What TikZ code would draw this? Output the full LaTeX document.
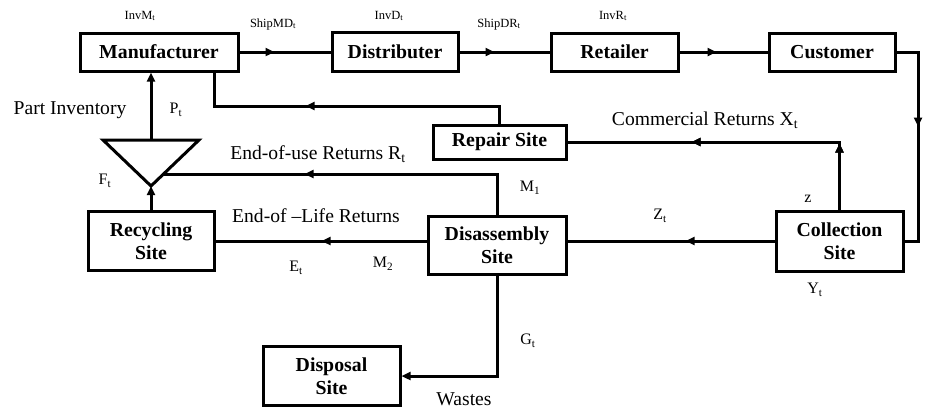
\documentclass[tikz,border=0pt]{standalone}
\usepackage{fontspec}
\setmainfont{Liberation Serif}
\usetikzlibrary{arrows.meta,decorations.markings}
\tikzset{
  box/.style={draw, line width=3pt, align=center, inner sep=0pt,
    font=\fontsize{19.8}{23}\selectfont\bfseries},
  conn/.style={line width=3pt},
  midarr/.style={decoration={markings,
     mark=at position #1 with {\arrow{Triangle[length=9pt,width=8pt]}}},
     postaction={decorate}},
  endarr/.style={-{Triangle[length=9pt,width=8pt]}},
  lab/.style={inner sep=0pt, font=\fontsize{19.6}{22}\selectfont},
  mlab/.style={inner sep=0pt, font=\fontsize{16}{18}\selectfont},
  slab/.style={inner sep=0pt, font=\fontsize{12.5}{14}\selectfont},
}
\begin{document}
\begin{tikzpicture}[x=1pt,y=-1pt]
\useasboundingbox (0,0) rectangle (943,408);
% boxes
\node[box, minimum width=158pt, minimum height=38pt] (man) at (159,52) {Manufacturer};
\node[box, minimum width=126pt, minimum height=39pt] (dist) at (395,52) {Distributer};
\node[box, minimum width=127pt, minimum height=38pt] (ret) at (614.5,52) {Retailer};
\node[box, minimum width=126pt, minimum height=38pt] (cust) at (832,52) {Customer};
\node[box, minimum width=133pt, minimum height=34pt] (rep) at (499.5,142) {Repair Site};
\node[box, minimum width=126pt, minimum height=59pt] (recy) at (151,241) {Recycling\\Site};
\node[box, minimum width=138pt, minimum height=58pt] (dis) at (497,245) {Disassembly\\Site};
\node[box, minimum width=127pt, minimum height=60pt] (col) at (839.5,241) {Collection\\Site};
\node[box, minimum width=137pt, minimum height=59pt] (disp) at (331.5,376) {Disposal\\Site};
% triangle
\coordinate (tl) at (103,140);
\coordinate (tr) at (199,140);
\coordinate (tb) at (151,186);
\coordinate (tt) at (151,140);
\coordinate (te) at (163.5,174);
\draw[conn, line join=miter] (tl) -- (tr) -- (tb) -- cycle;
% corner coordinates
\coordinate (c1) at (918,241);
\coordinate (c3) at (214,106);
% connectors
\draw[conn, midarr=35pt] (man.east) -- (dist.west);
\draw[conn, midarr=35pt] (dist.east) -- (ret.west);
\draw[conn, midarr=37pt] (ret.east) -- (cust.west);
\draw[conn, midarr=96pt] (cust.east) -| (c1) -- (col.east);
\draw[conn, midarr=66pt, midarr=215.5pt] (col.north) |- (rep.east);
\draw[conn, midarr=211.5pt] (rep.north) |- (c3) -- (c3 |- man.south);
\draw[conn, midarr=233pt] (dis.north) |- (te);
\draw[conn, midarr=89pt] (col.west) -- (col.west -| dis.east);
\draw[conn, midarr=105pt] (dis.west |- col.west) -- (col.west -| recy.east);
\draw[conn, endarr] (recy.north) -- (tb);
\draw[conn, endarr] (tt) -- (tt |- man.south);
\draw[conn, endarr] (dis.south) |- (disp.east);
% labels
\node[slab] (l1) at (140,16) {InvM\textsubscript{t}};
\node[slab] (l2) at (273,24) {ShipMD\textsubscript{t}};
\node[slab] (l3) at (389,16) {InvD\textsubscript{t}};
\node[slab] (l4) at (499,24) {ShipDR\textsubscript{t}};
\node[slab] (l5) at (613,16) {InvR\textsubscript{t}};
\node[lab] (l6) at (70,110) {Part Inventory};
\node[mlab] (l7) at (176,110) {P\textsubscript{t}};
\node[mlab] (l8) at (105,181) {F\textsubscript{t}};
\node[lab] (l9) at (318,154) {End-of-use Returns R\textsubscript{t}};
\node[lab] (l10) at (316,216) {End-of –Life Returns};
\node[mlab] (l11) at (296,268) {E\textsubscript{t}};
\node[mlab] (l12) at (383,264) {M\textsubscript{2}};
\node[mlab] (l13) at (530,188) {M\textsubscript{1}};
\node[lab] (l14) at (705,120) {Commercial Returns X\textsubscript{t}};
\node[mlab] (l15) at (660,216) {Z\textsubscript{t}};
\node[mlab] (l16) at (808,199) {z};
\node[mlab] (l17) at (815,290) {Y\textsubscript{t}};
\node[mlab] (l18) at (528,341) {G\textsubscript{t}};
\node[lab] (l19) at (464,399) {Wastes};
\end{tikzpicture}
\end{document}
